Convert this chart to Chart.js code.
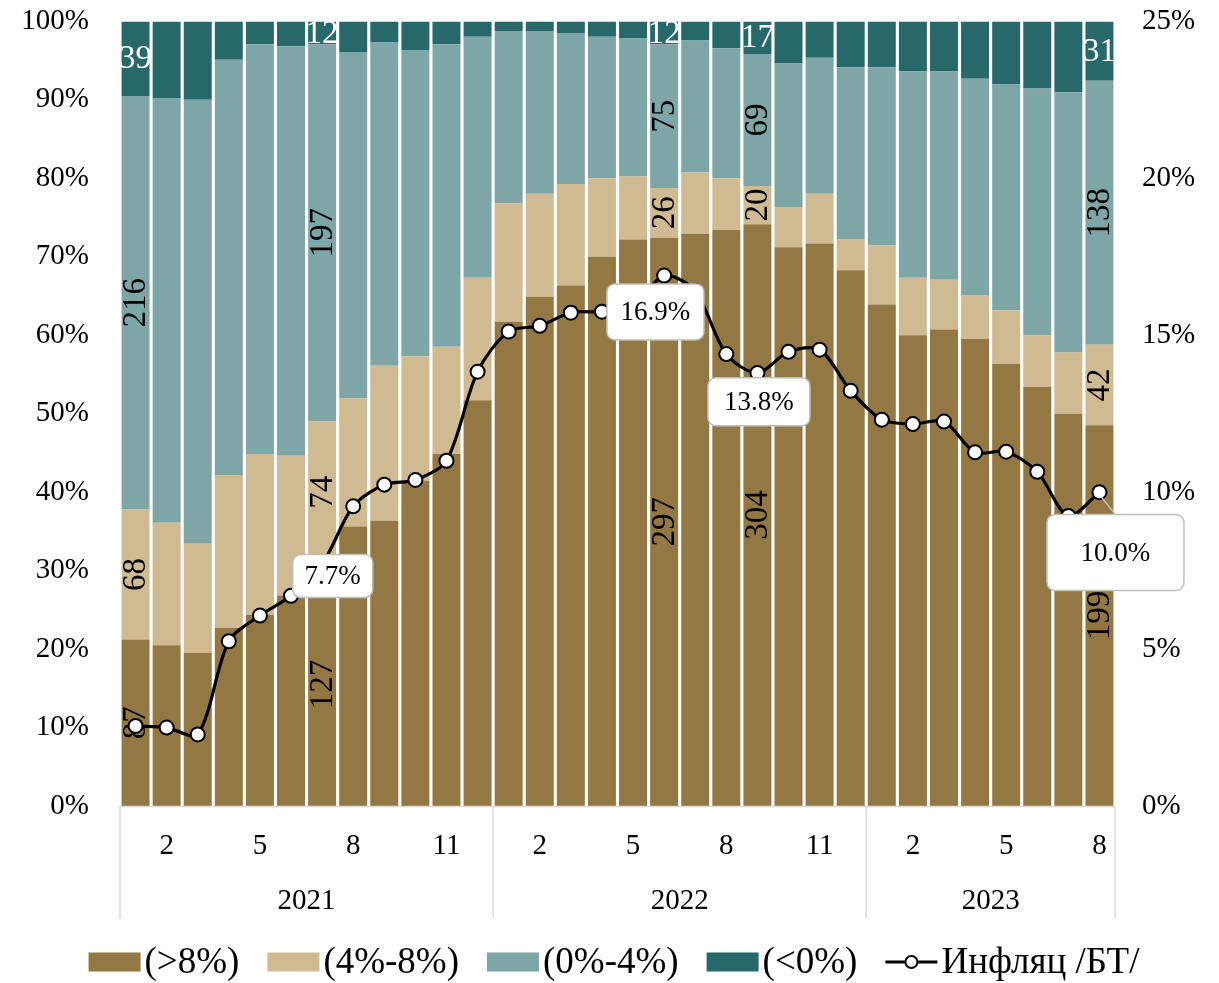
<!DOCTYPE html>
<html><head><meta charset="utf-8">
<script src="https://cdn.jsdelivr.net/npm/chart.js@4.4.1/dist/chart.umd.min.js"></script>
<style>html,body{margin:0;padding:0;background:#fff}#wrap{width:1219px;height:983px;position:relative}</style>
</head><body><div id="wrap"><canvas id="c" width="1219" height="983"></canvas></div>
<script>
// ---- data ----
const months = [1,2,3,4,5,6,7,8,9,10,11,12, 1,2,3,4,5,6,7,8,9,10,11,12, 1,2,3,4,5,6,7,8];
const years  = [2021,2021,2021,2021,2021,2021,2021,2021,2021,2021,2021,2021,
                2022,2022,2022,2022,2022,2022,2022,2022,2022,2022,2022,2022,
                2023,2023,2023,2023,2023,2023,2023,2023];
const above8   = [87,84,80,93,100,110,127,146,149,170,184,212, 253,266,272,287,296,297,299,301,304,292,294,280, 262,246,249,244,231,219,205,199];
const from4to8 = [68,64,57,80,84,73,74,67,81,65,56,64, 62,54,53,41,33,26,32,27,20,21,26,16, 31,30,26,23,28,27,32,42];
const from0to4 = [216,222,232,217,214,214,197,181,169,160,158,126, 90,85,79,74,72,75,69,68,69,75,71,90, 93,108,109,113,118,129,136,138];
const below0   = [39,40,41,20,12,13,12,16,11,15,12,8, 5,5,6,8,9,12,10,14,17,22,19,24, 24,26,26,30,33,35,37,31];
const inflation = [2.55,2.5,2.28,5.25,6.07,6.7,7.7,9.55,10.24,10.39,11.0,13.84, 15.12,15.3,15.72,15.75,15.9,16.9,16.4,14.4,13.8,14.47,14.54,13.23, 12.31,12.17,12.25,11.27,11.29,10.65,9.24,10.0];
const seriesNames = ['(>8%)','(4%-8%)','(0%-4%)','(<0%)','Инфляц /БТ/'];
const labeledBars = [0,6,17,20,31];
const calloutPoints = [6,17,20,31];
const shownMonths = [2,5,8,11];

// ---- styles ----
const FONT = '"Liberation Serif","Times New Roman",serif';
const COLORS = ['#937844','#CFBA92','#7FA6A6','#27696A'];
const calloutStyle = {
  6:  {dx: 10.6, dy: 11.6, w: 80,  h: 43},
  17: {dx: -8.7, dy: 36.3, w: 97,  h: 56},
  20: {dx: 1.5,  dy: 28.9, w: 102, h: 48},
  31: {dx: 16,   dy: 60.4, w: 137, h: 76, leader: true}
};

const counts = [above8, from4to8, from0to4, below0];
const totals = above8.map((_, i) => counts.reduce((s, a) => s + a[i], 0));
const pct = counts.map(a => a.map((v, i) => v / totals[i] * 100));

function roundRect(ctx, x, y, w, h, r) {
  ctx.beginPath();
  ctx.moveTo(x + r, y);
  ctx.lineTo(x + w - r, y);
  ctx.arcTo(x + w, y, x + w, y + r, r);
  ctx.lineTo(x + w, y + h - r);
  ctx.arcTo(x + w, y + h, x + w - r, y + h, r);
  ctx.lineTo(x + r, y + h);
  ctx.arcTo(x, y + h, x, y + h - r, r);
  ctx.lineTo(x, y + r);
  ctx.arcTo(x, y, x + r, y, r);
  ctx.closePath();
}

const overlay = {
  id: 'overlay',
  afterDatasetDraw(chart, args) {
    if (args.index !== 0) return;
    const ctx = chart.ctx;
    ctx.save();
    ctx.font = '33px ' + FONT;
    ctx.textAlign = 'center';
    ctx.textBaseline = 'middle';
    labeledBars.forEach(i => {
      for (let d = 0; d < 4; d++) {
        const el = chart.getDatasetMeta(d).data[i];
        const cy = (el.y + el.base) / 2;
        const txt = String(counts[d][i]);
        if (d < 3) {
          ctx.save();
          ctx.translate(el.x, cy);
          ctx.rotate(-Math.PI / 2);
          ctx.fillStyle = '#000';
          ctx.fillText(txt, 0, 1);
          ctx.restore();
        } else {
          ctx.fillStyle = '#fff';
          ctx.fillText(txt, el.x, cy + 1);
        }
      }
    });
    ctx.restore();
  },
  afterDraw(chart) {
    const ctx = chart.ctx;
    const ca = chart.chartArea;
    const xs = chart.scales.x;
    ctx.save();
    // x axis line and group separators
    ctx.strokeStyle = '#d9d9d9';
    ctx.lineWidth = 1.5;
    ctx.beginPath();
    ctx.moveTo(ca.left, ca.bottom + 0.5);
    ctx.lineTo(ca.right, ca.bottom + 0.5);
    const bounds = [ca.left];
    for (let i = 1; i < years.length; i++) {
      if (years[i] !== years[i - 1]) bounds.push((xs.getPixelForValue(i - 1) + xs.getPixelForValue(i)) / 2);
    }
    bounds.push(ca.right);
    bounds.forEach(b => { ctx.moveTo(b, ca.bottom); ctx.lineTo(b, ca.bottom + 112); });
    ctx.stroke();
    // month labels
    ctx.fillStyle = '#000';
    ctx.font = '29px ' + FONT;
    ctx.textAlign = 'center';
    ctx.textBaseline = 'middle';
    months.forEach((m, i) => {
      if (shownMonths.includes(m)) ctx.fillText(String(m), xs.getPixelForValue(i), ca.bottom + 40);
    });
    // year labels
    for (let k = 0; k < bounds.length - 1; k++) {
      const yr = years.find((y, i) => xs.getPixelForValue(i) > bounds[k] && xs.getPixelForValue(i) < bounds[k + 1]);
      ctx.fillText(String(yr), (bounds[k] + bounds[k + 1]) / 2, ca.bottom + 95);
    }
    // callouts
    const lm = chart.getDatasetMeta(4);
    calloutPoints.forEach(i => {
      const p = lm.data[i];
      const s = calloutStyle[i];
      const cx = p.x + s.dx, cy = p.y + s.dy;
      if (s.leader) {
        ctx.strokeStyle = '#bfbfbf';
        ctx.lineWidth = 1.5;
        ctx.beginPath();
        ctx.moveTo(p.x + 2, p.y + 5);
        ctx.lineTo(cx, cy - s.h / 2);
        ctx.stroke();
      }
      roundRect(ctx, cx - s.w / 2, cy - s.h / 2, s.w, s.h, 8);
      ctx.fillStyle = '#fff';
      ctx.fill();
      ctx.strokeStyle = '#bfbfbf';
      ctx.lineWidth = 1.5;
      ctx.stroke();
      ctx.fillStyle = '#000';
      ctx.font = '27px ' + FONT;
      ctx.fillText(inflation[i].toFixed(1) + '%', cx, cy + 1);
    });
    // legend
    ctx.font = '37px ' + FONT;
    ctx.textAlign = 'left';
    const boxW = 52, boxH = 19, gapBT = 4, gapItem = 28;
    const widths = seriesNames.map(n => boxW + gapBT + ctx.measureText(n).width);
    const total = widths.reduce((a, b) => a + b, 0) + gapItem * (widths.length - 1);
    let x = 614 - total / 2;
    const ly = 962;
    seriesNames.forEach((n, k) => {
      if (k < 4) {
        ctx.fillStyle = COLORS[k];
        ctx.fillRect(x, ly - boxH / 2, boxW, boxH);
      } else {
        ctx.strokeStyle = '#000';
        ctx.lineWidth = 3;
        ctx.beginPath();
        ctx.moveTo(x, ly); ctx.lineTo(x + boxW, ly);
        ctx.stroke();
        ctx.beginPath();
        ctx.arc(x + boxW / 2, ly, 6, 0, Math.PI * 2);
        ctx.fillStyle = '#fff';
        ctx.fill();
        ctx.lineWidth = 2;
        ctx.stroke();
      }
      ctx.fillStyle = '#000';
      ctx.fillText(n, x + boxW + gapBT, ly + 1);
      x += widths[k] + gapItem;
    });
    ctx.restore();
  }
};

const barDatasets = pct.map((d, k) => ({
  type: 'bar',
  label: seriesNames[k],
  data: d,
  backgroundColor: COLORS[k],
  borderWidth: 0,
  barPercentage: 0.9,
  categoryPercentage: 1.0,
  yAxisID: 'y',
  order: 1
}));

new Chart(document.getElementById('c'), {
  type: 'bar',
  data: {
    labels: months.map((m, i) => years[i] + '-' + m),
    datasets: [...barDatasets, {
      type: 'line',
      label: seriesNames[4],
      data: inflation,
      yAxisID: 'y1',
      borderColor: '#000',
      borderWidth: 3.2,
      tension: 0.3,
      pointRadius: 7,
      pointBorderWidth: 2,
      pointBackgroundColor: '#fff',
      pointBorderColor: '#000',
      clip: false,
      order: 0
    }]
  },
  options: {
    responsive: false,
    animation: false,
    layout: {padding: {top: 0, bottom: 65, left: 0, right: 0}},
    plugins: {legend: {display: false}, tooltip: {enabled: false}},
    scales: {
      x: {
        stacked: true,
        grid: {display: false},
        border: {display: false},
        ticks: {display: false},
        afterFit(s) { s.height = 112; }
      },
      y: {
        stacked: true,
        position: 'left',
        min: 0, max: 100,
        grid: {display: false, drawTicks: true, tickLength: 27},
        border: {display: false},
        ticks: {stepSize: 10, padding: 4, color: '#000', font: {family: FONT, size: 29}, callback: v => v + '%'},
        afterFit(s) { s.width = 120; }
      },
      y1: {
        position: 'right',
        min: 0, max: 25,
        grid: {display: false, drawTicks: true, tickLength: 23},
        border: {display: false},
        ticks: {stepSize: 5, padding: 4, color: '#000', font: {family: FONT, size: 29}, callback: v => v + '%'},
        afterFit(s) { s.width = 104; }
      }
    }
  },
  plugins: [overlay]
});
</script>
</body></html>
